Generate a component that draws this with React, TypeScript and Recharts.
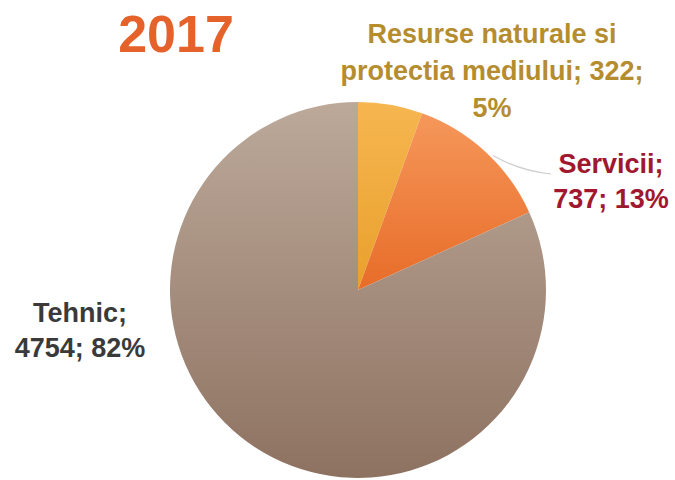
import React from "react";
import { PieChart, Pie, Cell } from "recharts";

const categories = ["Resurse naturale si protectia mediului", "Servicii", "Tehnic"];
const values = [322, 737, 4754];
const percentLabels = ["5%", "13%", "82%"];
const title = "2017";

// label line breaks per category
const labelLines: string[][] = [
  ["Resurse naturale si", "protectia mediului; 322;", "5%"],
  ["Servicii;", "737; 13%"],
  ["Tehnic;", "4754; 82%"],
];
const labelColors = ["#B58D2F", "#A0172E", "#3A3A3A"];
const labelAnchors = [
  { x: 492, y: 43, dy: 37 },
  { x: 611, y: 173, dy: 35 },
  { x: 80, y: 322, dy: 35 },
];
const fills = ["url(#gYellow)", "url(#gOrange)", "url(#gBrown)"];

const data = categories.map((name, i) => ({ name, value: values[i], pct: percentLabels[i] }));

const FONT = "'Liberation Sans', Arial, sans-serif";

const renderLabel = (props: any) => {
  const { cx, cy, midAngle, outerRadius, index } = props;
  const a = labelAnchors[index];
  const lines = labelLines[index];
  const RAD = Math.PI / 180;
  const ex = cx + (outerRadius + 2) * Math.cos(-midAngle * RAD);
  const ey = cy + (outerRadius + 2) * Math.sin(-midAngle * RAD);
  return (
    <g key={`lbl-${index}`}>
      {index === 1 && (
        <path d={`M${ex + 6},${ey + 5} Q${ex + 32},${ey + 20} ${a.x - 60},${a.y + 1}`} stroke="#CFCFCF" strokeWidth={1.2} fill="none" />
      )}
      {lines.map((t, j) => (
        <text
          key={j}
          x={a.x}
          y={a.y + j * a.dy}
          textAnchor="middle"
          fill={labelColors[index]}
          fontFamily={FONT}
          fontWeight="bold"
          fontSize={27}
        >
          {t}
        </text>
      ))}
    </g>
  );
};

export default function App() {
  return (
    <div style={{ position: "absolute", left: 0, top: 0, width: 675, height: 480, background: "#fff" }}>
      <PieChart width={675} height={480} margin={{ top: 0, right: 0, bottom: 0, left: 0 }}>
        <defs>
          <linearGradient id="gBrown" gradientUnits="userSpaceOnUse" x1="0" y1="102" x2="0" y2="478">
            <stop offset="0" stopColor="#BCA99A" />
            <stop offset="1" stopColor="#8E7261" />
          </linearGradient>
          <linearGradient id="gOrange" gradientUnits="userSpaceOnUse" x1="0" y1="102" x2="0" y2="478">
            <stop offset="0" stopColor="#F69A5E" />
            <stop offset="0.5" stopColor="#E86C28" />
            <stop offset="1" stopColor="#E0601E" />
          </linearGradient>
          <linearGradient id="gYellow" gradientUnits="userSpaceOnUse" x1="0" y1="102" x2="0" y2="478">
            <stop offset="0" stopColor="#F6B650" />
            <stop offset="0.5" stopColor="#E9A02C" />
            <stop offset="1" stopColor="#E09420" />
          </linearGradient>
        </defs>
        <Pie
          data={data}
          dataKey="value"
          nameKey="name"
          cx={358}
          cy={290}
          outerRadius={188}
          startAngle={90}
          endAngle={-270}
          stroke="none"
          label={renderLabel}
          labelLine={false}
          isAnimationActive={false}
        >
          {data.map((d, i) => (
            <Cell key={d.name} fill={fills[i]} />
          ))}
        </Pie>
      </PieChart>
      <svg width={675} height={480} style={{ position: "absolute", left: 0, top: 0, pointerEvents: "none" }}>
        <text x={176} y={52} textAnchor="middle" fill="#E5622A" fontFamily={FONT} fontWeight="bold" fontSize={52}>
          {title}
        </text>
      </svg>
    </div>
  );
}
